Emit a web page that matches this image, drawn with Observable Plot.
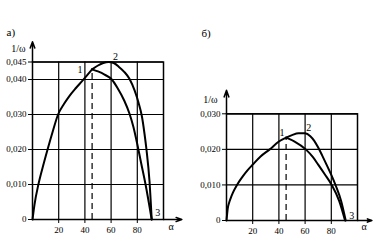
<!DOCTYPE html>
<html>
<head>
<meta charset="utf-8">
<script src="https://cdn.jsdelivr.net/npm/d3@7"></script>
<script src="https://cdn.jsdelivr.net/npm/@observablehq/plot@0.6"></script>
<style>
  html, body { margin: 0; padding: 0; background: #fff; }
  #wrap { display: flex; width: 378px; height: 251px; }
  #wrap svg { display: block; font-family: 'Liberation Serif', 'Times New Roman', 'DejaVu Serif', serif; }
  #wrap svg text { font-family: 'Liberation Serif', 'Times New Roman', 'DejaVu Serif', serif; }
</style>
</head>
<body>
<div id="wrap"></div>
<script>
// ---- data ----
const alphaTicks = [20, 40, 60, 80];
const aTicksY = [0, 0.010, 0.020, 0.030, 0.040, 0.045];
const bTicksY = [0, 0.010, 0.020, 0.030];

// panel а)
const aRiseAlpha = [0, 1.5, 4.5, 8, 11.5, 15.5, 19.5, 24, 28, 33, 38.5, 45.5];
const aRiseY     = [0, 0.0042, 0.010, 0.0152, 0.020, 0.0252, 0.030, 0.0330, 0.0352, 0.0375, 0.0398, 0.0429];
const a1Alpha = [45.5, 50, 55, 60.5, 65, 70, 74, 77, 80, 83, 86.3, 91];
const a1Y     = [0.0429, 0.0423, 0.0414, 0.040, 0.0375, 0.034, 0.0303, 0.0265, 0.0215, 0.016, 0.010, 0];
const a2Alpha = [45.5, 50, 54, 58, 62, 66, 70, 74, 78, 81, 83.5, 85.5, 87, 89.3, 91];
const a2Y     = [0.0429, 0.0440, 0.0447, 0.045, 0.0447, 0.0436, 0.0422, 0.0402, 0.0368, 0.0333, 0.0295, 0.0245, 0.020, 0.011, 0];
const aPtsName  = ["1", "2", "3"];
const aPtsAlpha = [45.5, 58, 91];
const aPtsY     = [0.0429, 0.045, 0];

// panel б)
const bRiseAlpha = [0, 1, 2, 3, 5, 8, 12, 16, 20, 26, 33, 40, 45.5];
const bRiseY     = [0, 0.0035, 0.0050, 0.0061, 0.0079, 0.010, 0.0122, 0.0141, 0.0157, 0.0180, 0.020, 0.0222, 0.0233];
const b1Alpha = [45.5, 52, 60.5, 66, 70, 75, 80.3, 86, 90.5];
const b1Y     = [0.0233, 0.0222, 0.020, 0.0178, 0.0157, 0.013, 0.010, 0.0055, 0];
const b2Alpha = [45.5, 50, 55, 60, 64, 67, 70, 73, 76, 80, 83.5, 87.5, 91];
const b2Y     = [0.0233, 0.0240, 0.0245, 0.0245, 0.0237, 0.0224, 0.0205, 0.0183, 0.0160, 0.0128, 0.0097, 0.0055, 0];
const bPtsName  = ["1", "2", "3"];
const bPtsAlpha = [45.5, 60.5, 91];
const bPtsY     = [0.0233, 0.0245, 0];

const panelTitles = ["а)", "б)"];

// ---- helpers ----
const zip = (xs, ys) => xs.map((x, i) => ({x, y: ys[i]}));
const fmtY = d => d === 0 ? "0" : d.toFixed(3).replace(".", ",");

function panel({title, yTicks, yMax, rise, c1, c2, pts, m, labelOffsets, yArrow, xArrow, titleOff, yLabOff, alphaOff}) {
  const ptsData = pts.name.map((n, i) => ({n, x: pts.alpha[i], y: pts.y[i], dx: labelOffsets[i][0], dy: labelOffsets[i][1]}));
  return Plot.plot({
    width: 189,
    height: 251,
    marginLeft: m[0], marginRight: m[1], marginTop: m[2], marginBottom: m[3],
    style: "font-family: 'Liberation Serif', 'Times New Roman', serif; font-size: 9px; color: black; background: white;",
    x: {domain: [0, 100], ticks: alphaTicks, tickSize: 4, tickPadding: 3, label: null},
    y: {domain: [0, yMax], ticks: yTicks, tickSize: 4, tickPadding: 2, tickFormat: fmtY, label: null},
    marks: [
      Plot.ruleX(alphaTicks, {stroke: "black", strokeWidth: 1.2}),
      Plot.ruleY(yTicks, {stroke: "black", strokeWidth: 1.2}),
      Plot.frame({stroke: "black", strokeWidth: 1.5}),
      Plot.ruleX([pts.alpha[0]], {y1: 0, y2: pts.y[0], stroke: "black", strokeWidth: 1.2, strokeDasharray: "6,4"}),
      Plot.line(zip(rise[0], rise[1]), {x: "x", y: "y", curve: "monotone-x", strokeWidth: 2, stroke: "black"}),
      Plot.line(zip(c1[0], c1[1]), {x: "x", y: "y", curve: "monotone-x", strokeWidth: 2, stroke: "black"}),
      Plot.line(zip(c2[0], c2[1]), {x: "x", y: "y", curve: "monotone-x", strokeWidth: 2, stroke: "black"}),
      ...ptsData.map(p => Plot.text([p], {x: "x", y: "y", text: "n", dx: p.dx, dy: p.dy, fontSize: 10, fill: "black"})),
      Plot.arrow([0], {x1: 0, x2: 0, y1: yMax, y2: yArrow, stroke: "black", strokeWidth: 1.5, headLength: 7, headAngle: 40}),
      Plot.arrow([0], {x1: 100, x2: xArrow, y1: 0, y2: 0, stroke: "black", strokeWidth: 1.5, headLength: 7, headAngle: 40}),
      Plot.text([title], {frameAnchor: "top-left", textAnchor: "start", dx: titleOff[0], dy: titleOff[1], fontSize: 11, fill: "black"}),
      Plot.text(["1/ω"], {frameAnchor: "top-left", textAnchor: "end", dx: yLabOff[0], dy: yLabOff[1], fontSize: 10, fill: "black"}),
      Plot.text(["α"], {frameAnchor: "bottom-right", textAnchor: "start", dx: alphaOff[0], dy: alphaOff[1], fontSize: 10, fill: "black"})
    ]
  });
}

const wrap = document.getElementById("wrap");
wrap.append(panel({
  title: panelTitles[0], yTicks: aTicksY, yMax: 0.045,
  rise: [aRiseAlpha, aRiseY], c1: [a1Alpha, a1Y], c2: [a2Alpha, a2Y],
  pts: {name: aPtsName, alpha: aPtsAlpha, y: aPtsY},
  m: [32, 26, 61.5, 32],
  labelOffsets: [[-12, 0], [7, -5], [6, -7]],
  yArrow: 0.0508, xArrow: 114,
  titleOff: [-26, -34], yLabOff: [-7, -17], alphaOff: [5, 10]
}));
wrap.append(panel({
  title: panelTitles[1], yTicks: bTicksY, yMax: 0.030,
  rise: [bRiseAlpha, bRiseY], c1: [b1Alpha, b1Y], c2: [b2Alpha, b2Y],
  pts: {name: bPtsName, alpha: bPtsAlpha, y: bPtsY},
  m: [37, 21, 113.3, 31],
  labelOffsets: [[-4, -5], [3, -6], [6, -5]],
  yArrow: 0.0366, xArrow: 111,
  titleOff: [-25, -85], yLabOff: [-9, -18], alphaOff: [4, 9]
}));
</script>
</body>
</html>
